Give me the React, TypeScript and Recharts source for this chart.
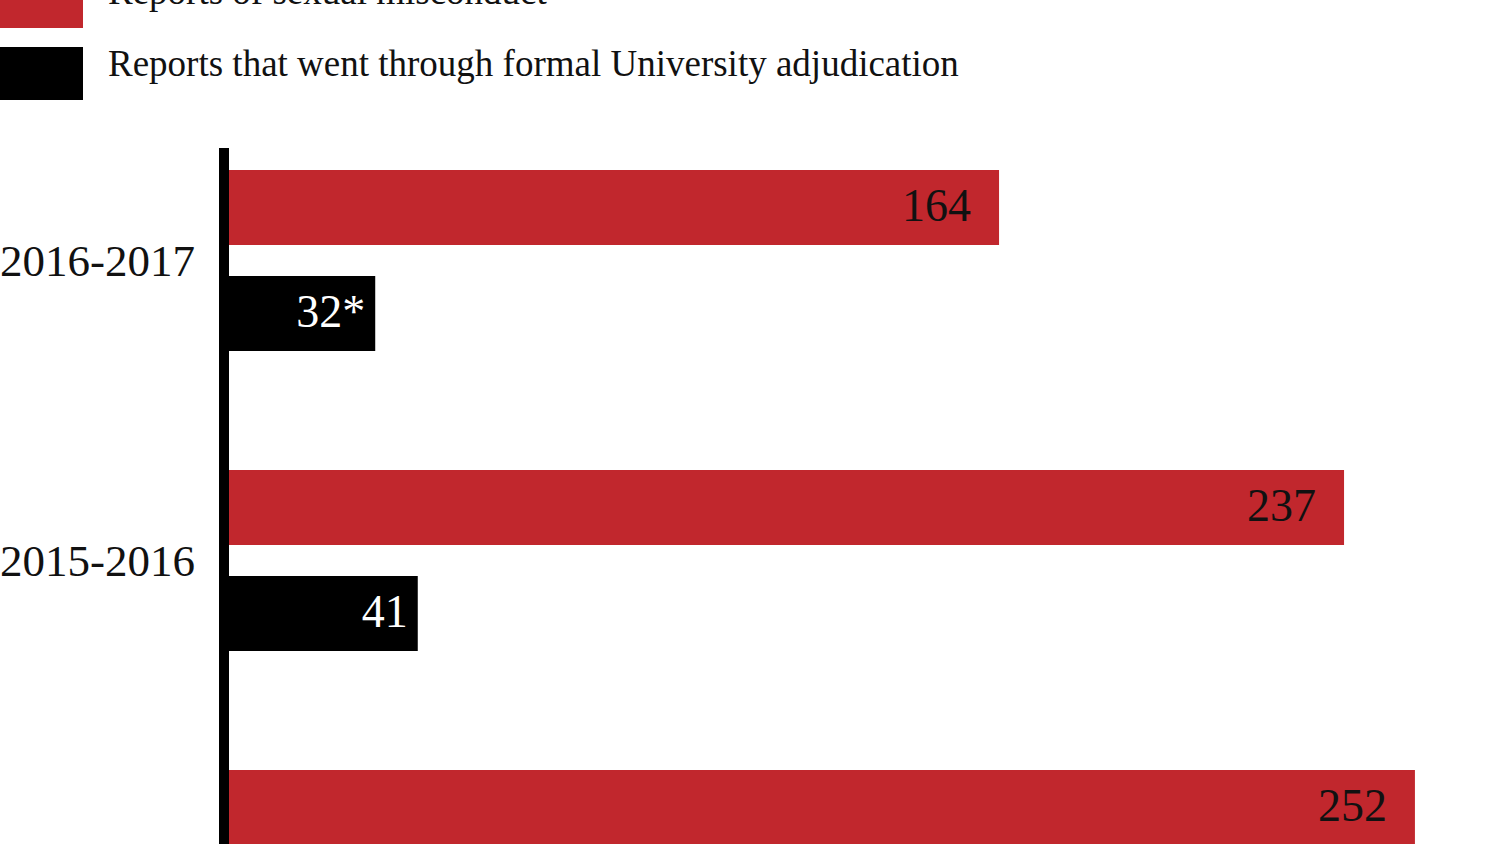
import { BarChart, Bar, XAxis, YAxis, LabelList } from "recharts";

const SERIF = '"Liberation Serif", "DejaVu Serif", serif';
const RED = "#C1272D";

// academic years, top to bottom
const years = ["2016-2017", "2015-2016", "2014-2015"];
const reports = [164, 237, 252];
// 2014-2015 adjudicated count falls outside the visible crop
const adjudicated = [32, 41, null];
const adjudicatedLabels = ["32*", "41", ""];

const seriesNames = [
  "Reports of sexual misconduct",
  "Reports that went through formal University adjudication",
];
const seriesColors = [RED, "#000000"];

const data = years.map((year, i) => ({
  year,
  reports: reports[i],
  adjudicated: adjudicated[i],
  adjudicatedLabel: adjudicatedLabels[i],
}));

function ChartLegend() {
  return (
    <div style={{ position: "absolute", top: -25, left: 0, zIndex: 2 }}>
      {seriesNames.map((name, i) => (
        <div key={name} style={{ display: "flex", alignItems: "flex-start", height: 53, marginBottom: 19 }}>
          <div style={{ width: 83, height: 53, background: seriesColors[i], flexShrink: 0 }} />
          <div
            style={{
              marginLeft: 25,
              fontFamily: SERIF,
              fontSize: 37,
              lineHeight: "33px",
              color: "#111",
              whiteSpace: "nowrap",
            }}
          >
            {name}
          </div>
        </div>
      ))}
    </div>
  );
}

export default function App() {
  return (
    <div style={{ position: "relative", width: 1500, height: 844, overflow: "hidden", background: "#fff" }}>
      <style>{`body { margin: 0; }`}</style>
      <ChartLegend />
      <BarChart
        width={1500}
        height={1010}
        data={data}
        layout="vertical"
        margin={{ top: 148, right: 0, bottom: 0, left: 0 }}
        barSize={75}
        barGap={31}
      >
        <XAxis type="number" domain={[0, 270]} hide />
        <Bar dataKey="reports" fill={RED} isAnimationActive={false}>
          <LabelList
            dataKey="reports"
            position="insideRight"
            offset={28}
            dy={-3}
            fill="#111"
            style={{ fontFamily: SERIF, fontSize: 46 }}
          />
        </Bar>
        <Bar dataKey="adjudicated" fill="#000" isAnimationActive={false}>
          <LabelList
            dataKey="adjudicatedLabel"
            position="insideRight"
            offset={10}
            dy={-3}
            fill="#fff"
            style={{ fontFamily: SERIF, fontSize: 46 }}
          />
        </Bar>
        <YAxis
          type="category"
          dataKey="year"
          width={224}
          padding={{ top: -38, bottom: 0 }}
          axisLine={{ stroke: "#000", strokeWidth: 10 }}
          tickLine={false}
          tickSize={6}
          tickMargin={23}
          tick={{ fill: "#111", fontSize: 45, fontFamily: SERIF }}
        />
      </BarChart>
    </div>
  );
}
